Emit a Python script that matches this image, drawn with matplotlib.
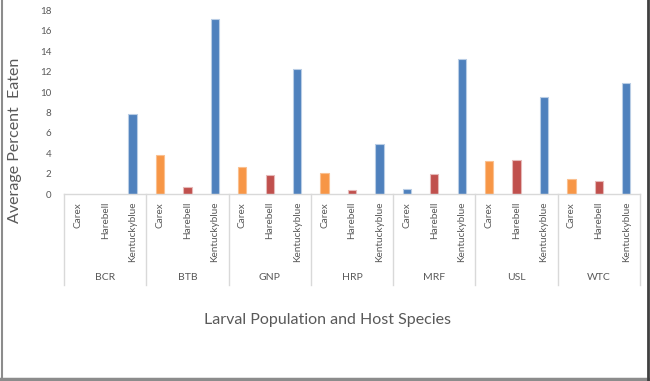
import matplotlib
matplotlib.use("Agg")
import matplotlib.pyplot as plt
from matplotlib.lines import Line2D
import matplotlib.transforms as mtransforms

plt.rcParams['font.family'] = ['Lato', 'DejaVu Sans']

populations = ["BCR", "BTB", "GNP", "HRP", "MRF", "USL", "WTC"]
hosts = ["Carex", "Harebell", "Kentuckyblue"]
carex = [0.0, 3.82, 2.6, 2.09, 0.49, 3.24, 1.5]
harebell = [0.0, 0.69, 1.82, 0.39, 1.99, 3.33, 1.3]
kentucky = [7.84, 17.15, 12.28, 4.9, 13.26, 9.5, 10.88]
yticks = [0, 2, 4, 6, 8, 10, 12, 14, 16, 18]

colors = {"Carex": "#F79646", "Harebell": "#C0504D", "Kentuckyblue": "#4F81BD"}
edges = {"Carex": "#FAC090", "Harebell": "#E6B9B8", "Kentuckyblue": "#B9CDE5"}
series = {"Carex": carex, "Harebell": harebell, "Kentuckyblue": kentucky}
# in the reference, the MRF Carex bar is drawn in blue
override = {("MRF", "Carex"): "Kentuckyblue"}

W, H = 650, 381
fig = plt.figure(figsize=(W / 100, H / 100), dpi=100)
x0, x1, ybot, ytop = 64, 640, 194, 10.5
ax = fig.add_axes([x0 / W, 1 - ybot / H, (x1 - x0) / W, (ybot - ytop) / H])

n = len(populations) * len(hosts)
for gi, pop in enumerate(populations):
    for hi, h in enumerate(hosts):
        xi = gi * 3 + hi
        v = series[h][gi]
        ck = override.get((pop, h), h)
        if v > 0:
            ax.bar(xi, v, width=0.3, color=colors[ck], edgecolor=edges[ck], linewidth=0.8)

ax.set_xlim(-0.5, n - 0.5)
ax.set_ylim(0, 18)
ax.set_yticks(yticks)
ax.set_yticklabels([str(t) for t in yticks])
ax.tick_params(axis='y', length=0, pad=9, labelsize=7, labelcolor="#595959")
ax.set_xticks([])
for s in ["top", "right", "left"]:
    ax.spines[s].set_visible(False)
ax.spines["bottom"].set_color("#D9D9D9")
ax.spines["bottom"].set_linewidth(1)

trans = mtransforms.blended_transform_factory(ax.transData, fig.transFigure)
for gi, pop in enumerate(populations):
    for hi, h in enumerate(hosts):
        xi = gi * 3 + hi
        ax.text(xi, 1 - 202 / H, h, transform=trans, rotation=90, ha="center", va="top",
                fontsize=7.2, color="#595959")
    ax.text(gi * 3 + 1, 1 - 277 / H, pop, transform=trans, ha="center", va="center",
            fontsize=7.5, color="#595959")
for k in range(len(populations) + 1):
    xs = k * 3 - 0.5
    fig.add_artist(Line2D([xs, xs], [1 - ybot / H, 1 - 285 / H], transform=trans,
                          color="#D9D9D9", linewidth=1))

fig.text(328 / W, 1 - 320 / H, "Larval Population and Host Species", ha="center", va="center",
         fontsize=11.5, color="#595959")
fig.text(15 / W, 1 - 140 / H, "Average Percent  Eaten", ha="center", va="center",
         rotation=90, fontsize=11.5, color="#595959")

# figure frame
fig.add_artist(Line2D([1.5 / W, 1.5 / W], [0, 1], transform=fig.transFigure, color="#8C8C8C", linewidth=1.5))
fig.add_artist(Line2D([0, 1], [2.5 / H, 2.5 / H], transform=fig.transFigure, color="#8C8C8C", linewidth=2.5))
fig.add_artist(Line2D([647.5 / W, 647.5 / W], [0, 1], transform=fig.transFigure, color="#404040", linewidth=2))

fig.savefig("out.png", dpi=100, facecolor="white")
